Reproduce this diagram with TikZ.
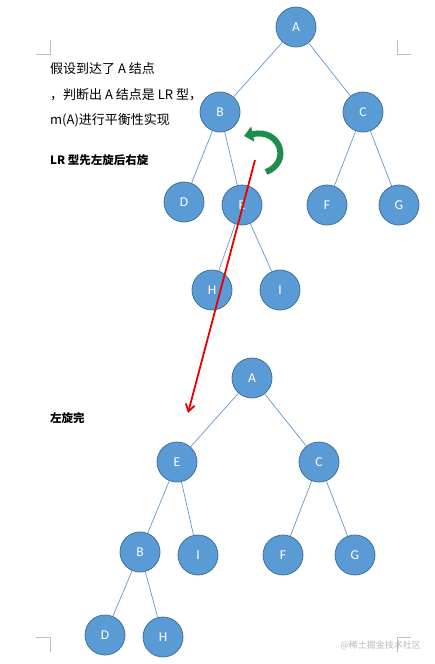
\documentclass[tikz,border=0pt]{standalone}
\usepackage{fontspec}
\setmainfont{Carlito}
\newfontfamily\cjk{Noto Sans CJK SC}
\usetikzlibrary{arrows.meta, calc}
\definecolor{nodefill}{RGB}{91, 155, 213}
\definecolor{nodedraw}{RGB}{65, 113, 156}
\definecolor{edgeline}{RGB}{100, 150, 200}
\definecolor{arrred}{RGB}{232, 0, 0}
\definecolor{arrgreen}{RGB}{30, 140, 75}
\definecolor{markgray}{RGB}{190, 190, 190}
\definecolor{wmgray}{RGB}{185, 185, 185}

\begin{document}
\begin{tikzpicture}[
  x=1pt, y=-1pt,
  tnode/.style={
    circle, draw=nodedraw, line width=0.8pt, fill=nodefill,
    minimum size=40pt, inner sep=0pt,
    text=white, font=\fontsize{13.5}{15}\selectfont,
  },
  tedge/.style={edgeline, line width=0.7pt},
  note/.style={anchor=west, inner sep=0pt, font=\cjk\fontsize{13}{15}\selectfont},
  bnote/.style={anchor=west, inner sep=0pt, font=\cjk\bfseries\fontsize{11.5}{14}\selectfont},
  marks/.style={markgray, line width=0.8pt},
  rarrow/.style={-{Straight Barb[length=7pt, width=9pt]}, arrred, line width=1.8pt},
  garrow/.style={-{Triangle[length=9pt, width=15pt]}, arrgreen, line width=6pt},
]
\useasboundingbox (0,0) rectangle (434,664);

% Corner marks
\draw[marks] (36,54) -- (50,54) -- (50,40);
\draw[marks] (411,54) -- (397,54) -- (397,40);
\draw[marks] (36,637) -- (50,637) -- (50,652);
\draw[marks] (411,637) -- (397,637) -- (397,652);

% Notes
\node[note] (n1) at (50,69) {假设到达了 A 结点};
\node[note] (n2) at (50,95) {，判断出 A 结点是 LR 型，};
\node[note] (n3) at (50,120) {m(A)进行平衡性实现};
\node[bnote] (n4) at (50,160) {LR 型先左旋后右旋};
\node[bnote] (n5) at (50,418) {左旋完};

% Tree before rotation
\foreach \n/\x/\y in {A/296/27, B/220/112, C/363/112, D/184/202, E/242/205,
  F/327/205, G/399/205, H/212/290, I/280/290}{
  \node[tnode] (t\n) at (\x,\y) {\n};
}
\foreach \a/\b in {A/B, A/C, B/D, B/E, C/F, C/G, E/H, E/I}{
  \draw[tedge] (t\a) -- (t\b);
}

% Tree after left rotation
\foreach \n/\x/\y in {A/252/378, E/177/462, C/319/462, B/140/552, I/198/555,
  F/283/555, G/355/555, D/105/635, H/163/637}{
  \node[tnode] (b\n) at (\x,\y) {\n};
}
\foreach \a/\b in {A/E, A/C, E/B, E/I, C/F, C/G, B/D, B/H}{
  \draw[tedge] (b\a) -- (b\b);
}

% Arrows
\coordinate (gtail) at (266,172);
\coordinate (ghead) at (244,136);
\draw[garrow] (gtail) .. controls (292,162) and (280,128) .. (ghead);

\coordinate (rtail) at (255,160);
\coordinate (rhead) at (188,413);
\draw[rarrow] (rtail) -- (rhead);

% Watermark
\node[anchor=east, inner sep=0pt, text=wmgray, font=\cjk\fontsize{9}{11}\selectfont]
  (wm) at (421,645) {@稀土掘金技术社区};

\end{tikzpicture}
\end{document}
